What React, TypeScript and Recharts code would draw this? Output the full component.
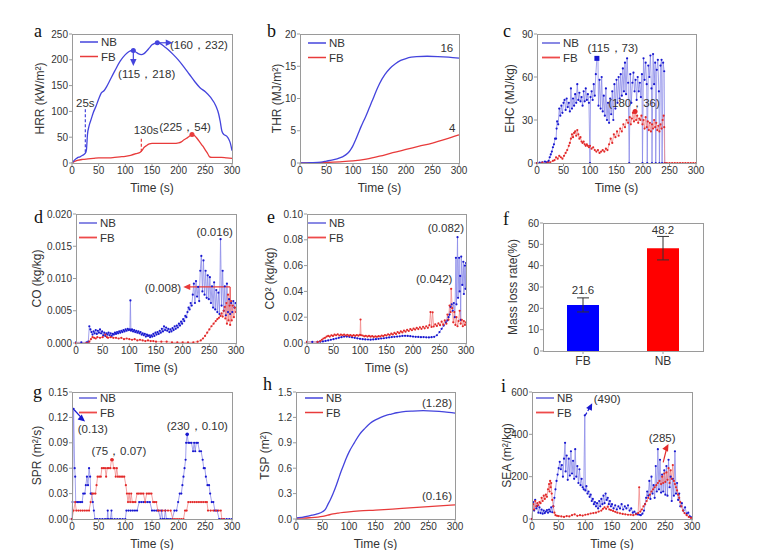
import React from "react"
import {
  LineChart,
  Line,
  XAxis,
  YAxis,
  BarChart,
  Bar,
  Cell,
  ErrorBar,
  ReferenceLine,
  ReferenceDot,
} from "recharts"

const FONT = '"Liberation Sans", Arial, Helvetica, sans-serif'
const SERIF = '"Liberation Serif", "Times New Roman", serif'
const TXT = "#333"
const FRAME = "#9a9a9a"
const BLUE = "#4444dd"
const RED = "#e83b3b"
const BLUE_LN = "#8a8ae8"
const BLUE_DOT = "#1818d0"
const RED_LN = "#f28a8a"
const RED_DOT = "#e22a2a"

type Pt = [number, number]

const timeTicks = [0, 50, 100, 150, 200, 250, 300]

// a: heat release rate
const hrrNB: Pt[] = [
  [0, 0], [5, 6], [10, 10], [15, 12], [20, 15], [25, 19], [27, 25], [29, 55], [32, 72], [36, 85],
  [40, 98], [45, 110], [50, 124], [55, 136], [60, 140], [65, 148], [70, 158], [80, 178], [90, 197],
  [100, 210], [107, 216], [113, 218], [118, 216], [124, 212], [130, 210], [135, 212], [140, 217],
  [145, 223], [150, 229], [155, 232], [160, 233], [165, 232], [170, 228], [180, 220], [190, 210],
  [200, 199], [210, 186], [220, 172], [230, 158], [240, 146], [250, 138], [260, 127], [270, 110],
  [275, 95], [278, 80], [281, 62], [285, 55], [290, 52], [294, 46], [297, 38], [300, 24],
]
const hrrFB: Pt[] = [
  [0, 0], [5, 3], [10, 5], [20, 7], [30, 8], [40, 9], [50, 10], [60, 10], [70, 10], [80, 11],
  [90, 12], [100, 13], [110, 15], [120, 18], [128, 21], [131, 24], [135, 30], [140, 34], [145, 37],
  [150, 38], [160, 38], [170, 38], [180, 38], [190, 38], [200, 39], [205, 41], [210, 45], [215, 48],
  [220, 52], [225, 55], [230, 53], [235, 47], [240, 40], [245, 33], [250, 25], [255, 17], [258, 12],
  [262, 11], [270, 11], [280, 11], [290, 10], [300, 9],
]

// b: total heat release
const thrNB: Pt[] = [
  [0, 0], [20, 0.05], [40, 0.15], [50, 0.3], [60, 0.45], [70, 0.65], [80, 0.95], [90, 1.5],
  [95, 2], [100, 2.7], [105, 3.6], [110, 4.6], [115, 5.6], [120, 6.5], [125, 7.4], [130, 8.4],
  [135, 9.4], [140, 10.4], [145, 11.4], [150, 12.3], [160, 13.7], [170, 14.7], [180, 15.4],
  [190, 15.9], [200, 16.2], [210, 16.4], [220, 16.5], [240, 16.55], [260, 16.5], [280, 16.4], [300, 16.25],
]
const thrFB: Pt[] = [
  [0, 0], [25, 0.02], [50, 0.08], [75, 0.18], [100, 0.32], [125, 0.6], [150, 1.05], [175, 1.6],
  [200, 2.1], [225, 2.6], [250, 3.1], [275, 3.7], [300, 4.35],
]

// c: effective heat of combustion
const ehcNB: Pt[] = [
  [0, 0], [5, 0.3], [10, 0.5], [15, 1], [18, 0.5], [20, 0.5], [22, 1.5], [24, 4], [26, 6], [28, 8],
  [30, 11], [32, 13], [34, 17], [36, 17], [37, 24], [38, 29], [40, 27], [42, 38], [44, 33], [46, 40],
  [48, 35], [50, 42], [52, 44], [54, 37], [56, 45], [58, 39], [60, 42], [62, 36], [64, 52], [66, 38],
  [68, 45], [70, 40], [72, 48], [74, 42], [76, 55], [78, 44], [80, 49], [82, 43], [84, 46], [86, 40],
  [88, 50], [90, 43], [92, 52], [94, 44], [96, 48], [98, 42], [100, 0], [101, 46], [103, 50], [105, 44],
  [107, 55], [109, 47], [111, 62], [113, 73], [115, 73], [116, 40], [118, 58], [120, 38], [122, 60],
  [124, 36], [126, 47], [128, 33], [130, 52], [132, 30], [134, 42], [136, 28], [138, 45], [140, 34],
  [142, 50], [144, 30], [146, 55], [148, 38], [150, 58], [152, 42], [154, 60], [156, 45], [158, 62],
  [160, 47], [162, 66], [164, 50], [166, 70], [168, 48], [170, 73], [172, 56], [174, 0], [176, 62],
  [178, 42], [180, 56], [182, 63], [184, 50], [186, 58], [188, 44], [190, 60], [192, 50], [194, 56],
  [196, 46], [198, 62], [199, 0], [201, 73], [203, 58], [205, 70], [207, 55], [208, 0], [210, 68],
  [212, 60], [214, 75], [216, 52], [217, 0], [219, 76], [221, 55], [223, 70], [224, 0], [226, 65],
  [228, 72], [230, 50], [231, 0], [233, 68], [235, 72], [236, 0], [238, 70], [240, 64], [241, 0],
]
const ehcFB: Pt[] = [
  [0, 0], [10, 0.2], [20, 0.3], [25, 0.5], [30, 1.5], [33, 2], [36, 4], [39, 3], [42, 5], [45, 4],
  [48, 3], [51, 5], [54, 7], [57, 9], [60, 12], [62, 14], [64, 17], [66, 20], [68, 18], [70, 21],
  [72, 22], [74, 19], [76, 23], [78, 20], [80, 17], [82, 18], [84, 15], [86, 14], [88, 15], [90, 13],
  [92, 12], [94, 13], [96, 12], [98, 11], [100, 12], [103, 10], [106, 11], [109, 9], [112, 8],
  [115, 9], [118, 7], [121, 8], [124, 9], [127, 8], [130, 10], [133, 9], [136, 13], [139, 17],
  [142, 14], [145, 20], [148, 18], [151, 22], [154, 19], [157, 24], [160, 22], [163, 27], [166, 25],
  [169, 30], [172, 28], [175, 32], [177, 27], [179, 31], [181, 35], [183, 29], [185, 36], [187, 30],
  [189, 33], [191, 28], [193, 31], [195, 30], [197, 33], [199, 27], [201, 30], [203, 24], [205, 32],
  [207, 25], [209, 29], [211, 23], [213, 28], [215, 22], [217, 27], [219, 24], [221, 30], [223, 25],
  [225, 28], [227, 23], [229, 26], [231, 22], [233, 27], [235, 24], [237, 30], [239, 33], [240, 25],
  [241, 0], [245, 0], [250, 0], [255, 0], [260, 0], [265, 0], [270, 0], [275, 0], [280, 0], [285, 0],
  [290, 0], [295, 0], [300, 0],
]

// d: CO yield
const coNB: Pt[] = [
  [0, 0.0001], [10, 0.0001], [20, 0.0001], [23, 0.0002], [25, 0.0026], [27, 0.0021], [29, 0.0017],
  [31, 0.0013], [33, 0.0018], [35, 0.0015], [37, 0.002], [39, 0.0014], [41, 0.0019], [43, 0.0016],
  [45, 0.0021], [47, 0.0015], [49, 0.0018], [51, 0.0012], [53, 0.0016], [55, 0.0011], [57, 0.0015],
  [59, 0.0013], [61, 0.0016], [63, 0.0012], [65, 0.0015], [67, 0.0011], [69, 0.0014], [71, 0.0013],
  [73, 0.0016], [75, 0.0014], [77, 0.0017], [79, 0.0015], [81, 0.0018], [83, 0.0016], [85, 0.0019],
  [87, 0.0017], [89, 0.002], [91, 0.0018], [93, 0.0021], [95, 0.0019], [97, 0.0022], [99, 0.002],
  [101, 0.0021], [102, 0.0066], [103, 0.0019], [105, 0.0021], [107, 0.0018], [109, 0.002],
  [111, 0.0017], [113, 0.0019], [115, 0.0016], [117, 0.0018], [119, 0.0015], [121, 0.0017],
  [123, 0.0013], [125, 0.0015], [127, 0.0012], [129, 0.0014], [131, 0.001], [133, 0.0013],
  [135, 0.0011], [137, 0.0012], [139, 0.0009], [141, 0.0012], [143, 0.001], [145, 0.0014],
  [147, 0.0011], [149, 0.0016], [151, 0.0013], [153, 0.0017], [155, 0.0014], [157, 0.0019],
  [159, 0.0016], [161, 0.0022], [163, 0.0018], [165, 0.0026], [167, 0.002], [169, 0.0024],
  [171, 0.0019], [173, 0.0022], [175, 0.0017], [177, 0.0021], [179, 0.0018], [181, 0.0023],
  [183, 0.002], [185, 0.0026], [187, 0.0022], [189, 0.0027], [191, 0.0024], [193, 0.003],
  [195, 0.0027], [197, 0.0033], [199, 0.003], [201, 0.0037], [203, 0.0034], [205, 0.0042],
  [207, 0.004], [209, 0.0048], [211, 0.0055], [213, 0.0052], [215, 0.0062], [217, 0.0058],
  [219, 0.0075], [221, 0.0092], [223, 0.0062], [225, 0.0096], [227, 0.0072], [229, 0.0087],
  [231, 0.0065], [233, 0.0112], [235, 0.0135], [237, 0.008], [239, 0.0128], [241, 0.0075],
  [243, 0.0112], [245, 0.007], [247, 0.0105], [249, 0.0068], [251, 0.0102], [253, 0.0062],
  [255, 0.0088], [257, 0.0055], [259, 0.0094], [261, 0.0052], [263, 0.0082], [265, 0.0048],
  [267, 0.0078], [269, 0.0045], [271, 0.0161], [273, 0.0058], [275, 0.0112], [277, 0.005],
  [279, 0.0088], [281, 0.0043], [283, 0.0092], [285, 0.0048], [287, 0.0068], [289, 0.0045],
  [291, 0.0062], [293, 0.0048], [295, 0.0065], [297, 0.0055], [299, 0.0062],
]
const coFB: Pt[] = [
  [0, 0], [20, 0], [25, 0.0002], [28, 0.0006], [31, 0.0009], [34, 0.0008], [37, 0.0007], [40, 0.0009],
  [45, 0.0008], [50, 0.0009], [55, 0.0013], [58, 0.0009], [60, 0.0008], [65, 0.0009], [70, 0.0008],
  [75, 0.0008], [80, 0.0007], [85, 0.0008], [90, 0.0006], [95, 0.0007], [100, 0.0006], [105, 0.0005],
  [110, 0.0006], [115, 0.0004], [120, 0.0005], [125, 0.0004], [130, 0.0003], [135, 0.0004],
  [140, 0.0003], [145, 0.0003], [150, 0.0002], [160, 0.0002], [170, 0.0002], [180, 0.0001],
  [190, 0.0001], [200, 0.0001], [210, 0.0001], [220, 0.0001], [228, 0.0002], [234, 0.0004],
  [238, 0.0007], [242, 0.0011], [246, 0.0016], [250, 0.0021], [254, 0.0026], [258, 0.003],
  [262, 0.0034], [265, 0.0037], [268, 0.0039], [271, 0.0042], [273, 0.0046], [275, 0.0041],
  [277, 0.005], [279, 0.0056], [280, 0.0038], [282, 0.0062], [283, 0.003], [285, 0.0075],
  [286, 0.0035], [288, 0.0058], [289, 0.0028], [291, 0.0065], [292, 0.0035], [294, 0.0058],
  [296, 0.004], [298, 0.0055], [300, 0.0048],
]

// e: CO2 yield
const co2NB: Pt[] = [
  [0, 0.0008], [10, 0.0008], [20, 0.0008], [25, 0.001], [30, 0.0012], [35, 0.0016], [40, 0.002],
  [45, 0.0025], [50, 0.003], [55, 0.0035], [60, 0.004], [65, 0.0045], [70, 0.005], [75, 0.005],
  [80, 0.0048], [85, 0.0044], [90, 0.004], [95, 0.0036], [100, 0.0032], [105, 0.003], [110, 0.0028],
  [115, 0.0027], [120, 0.0026], [125, 0.0028], [130, 0.003], [135, 0.0032], [140, 0.0035],
  [145, 0.0037], [150, 0.004], [155, 0.0043], [160, 0.0046], [165, 0.0048], [170, 0.005],
  [175, 0.0052], [180, 0.0055], [185, 0.0056], [190, 0.0055], [195, 0.0053], [200, 0.005],
  [205, 0.0048], [210, 0.0047], [215, 0.0045], [220, 0.0046], [225, 0.0044], [230, 0.0043],
  [235, 0.0045], [240, 0.0048], [245, 0.006], [250, 0.0085], [254, 0.011], [258, 0.0135],
  [262, 0.016], [265, 0.0175], [267, 0.02], [269, 0.022], [271, 0.028], [273, 0.03], [275, 0.025],
  [277, 0.031], [279, 0.02], [281, 0.066], [282, 0.03], [284, 0.082], [285, 0.035], [287, 0.066],
  [288, 0.04], [289, 0.052], [290, 0.018], [291, 0.067], [293, 0.045], [295, 0.063], [296, 0.038],
  [298, 0.06], [299, 0.042], [300, 0.062],
]
const co2FB: Pt[] = [
  [0, 0.0008], [20, 0.0008], [25, 0.0015], [28, 0.0025], [31, 0.0035], [34, 0.004], [37, 0.005],
  [40, 0.0055], [43, 0.005], [46, 0.006], [49, 0.0055], [52, 0.0065], [55, 0.006], [58, 0.0068],
  [61, 0.0058], [64, 0.0065], [67, 0.006], [70, 0.0066], [73, 0.0058], [76, 0.0064], [79, 0.0057],
  [82, 0.0062], [85, 0.0055], [88, 0.0061], [91, 0.0056], [94, 0.0062], [97, 0.0057], [100, 0.0063],
  [101, 0.0182], [102, 0.006], [105, 0.0058], [108, 0.0052], [111, 0.0056], [114, 0.005],
  [117, 0.0055], [120, 0.0049], [123, 0.0053], [126, 0.0047], [129, 0.0052], [132, 0.0048],
  [135, 0.0054], [138, 0.005], [141, 0.0058], [144, 0.0053], [147, 0.0062], [150, 0.0058],
  [153, 0.0068], [156, 0.0062], [159, 0.0072], [162, 0.0066], [165, 0.0078], [168, 0.007],
  [171, 0.0085], [174, 0.0076], [177, 0.009], [180, 0.0082], [183, 0.0096], [186, 0.0088],
  [189, 0.0102], [192, 0.0093], [195, 0.0108], [198, 0.0099], [201, 0.0112], [204, 0.0104],
  [207, 0.0118], [210, 0.0108], [213, 0.0122], [216, 0.011], [219, 0.0126], [222, 0.0114],
  [225, 0.013], [228, 0.0118], [231, 0.0138], [233, 0.024], [235, 0.0125], [237, 0.0238],
  [239, 0.0128], [242, 0.0145], [245, 0.0132], [248, 0.0152], [251, 0.0138], [254, 0.0165],
  [257, 0.0142], [260, 0.0175], [263, 0.015], [265, 0.022], [267, 0.018], [269, 0.029], [271, 0.024],
  [272, 0.042], [274, 0.027], [276, 0.016], [278, 0.024], [280, 0.014], [282, 0.02], [284, 0.013],
  [286, 0.017], [288, 0.025], [290, 0.015], [292, 0.018], [294, 0.013], [296, 0.017], [298, 0.014],
  [300, 0.016],
]

// f: mass loss rate
const massGroups = ["FB", "NB"]
const massValues = [21.6, 48.2]
const massErrors = [3.3, 5.5]
const massColors = ["#0000ff", "#ff0000"]

// g: smoke production rate
const sprNB: Pt[] = [
  [0, 0], [1, 0.02], [3, 0.13], [5, 0.06], [6, 0.05], [7, 0.02], [10, 0.02], [13, 0.02], [16, 0.02],
  [19, 0.02], [21, 0.03], [24, 0.03], [26, 0.04], [28, 0.05], [30, 0.04], [32, 0.06], [34, 0.05],
  [35, 0.03], [37, 0.03], [39, 0.02], [41, 0.01], [43, 0], [47, 0], [52, 0], [57, 0], [62, 0], [66, 0],
  [67, 0.01], [68, 0], [72, 0], [74, 0.01], [75, 0], [80, 0], [85, 0], [90, 0], [95, 0], [100, 0],
  [102, 0.01], [106, 0.01], [110, 0.01], [114, 0.01], [118, 0.01], [122, 0.01], [126, 0.02],
  [130, 0.02], [134, 0.02], [138, 0.02], [142, 0.02], [146, 0.02], [150, 0.01], [154, 0.01],
  [158, 0.01], [162, 0.01], [166, 0], [168, 0.01], [170, 0], [173, 0], [175, 0.01], [177, 0], [180, 0],
  [184, 0], [188, 0], [192, 0.01], [196, 0.01], [199, 0.02], [202, 0.03], [205, 0.03], [207, 0.04],
  [209, 0.05], [211, 0.06], [213, 0.07], [214, 0.09], [216, 0.1], [218, 0.09], [221, 0.09],
  [224, 0.09], [227, 0.08], [229, 0.09], [231, 0.08], [233, 0.09], [236, 0.09], [239, 0.08],
  [242, 0.08], [245, 0.07], [247, 0.06], [249, 0.06], [251, 0.05], [254, 0.04], [257, 0.04],
  [259, 0.03], [262, 0.02], [265, 0.02], [268, 0.01], [272, 0.01], [276, 0], [280, 0], [285, 0],
  [290, 0], [295, 0], [300, 0],
]
const sprFB: Pt[] = [
  [0, 0], [3, 0.01], [6, 0.02], [8, 0.01], [12, 0.01], [16, 0.01], [20, 0.01], [24, 0.01], [28, 0.01],
  [32, 0.01], [35, 0.02], [38, 0.03], [41, 0.03], [44, 0.03], [46, 0.04], [48, 0.05], [51, 0.05],
  [54, 0.05], [56, 0.06], [59, 0.06], [62, 0.06], [64, 0.05], [66, 0.06], [69, 0.06], [72, 0.06],
  [74, 0.07], [76, 0.07], [78, 0.06], [80, 0.06], [82, 0.05], [84, 0.06], [86, 0.05], [89, 0.05],
  [92, 0.05], [95, 0.05], [98, 0.05], [101, 0.04], [103, 0.03], [105, 0.02], [107, 0.03], [109, 0.02],
  [111, 0.03], [113, 0.02], [116, 0.02], [119, 0.02], [122, 0.03], [125, 0.03], [128, 0.03],
  [131, 0.03], [134, 0.03], [137, 0.02], [140, 0.03], [143, 0.03], [146, 0.03], [149, 0.03],
  [152, 0.02], [155, 0.02], [158, 0.02], [161, 0.01], [165, 0.01], [170, 0.01], [175, 0.01],
  [180, 0.01], [185, 0.01], [189, 0], [193, 0], [197, 0], [201, 0], [205, 0], [209, 0], [212, 0.01],
  [215, 0.01], [218, 0.02], [222, 0.02], [226, 0.02], [230, 0.02], [234, 0.02], [238, 0.02],
  [242, 0.02], [246, 0.02], [250, 0.02], [253, 0.02], [255, 0.01], [260, 0.01], [265, 0.01],
  [270, 0.01], [275, 0.01], [279, 0.01], [281, 0], [285, 0],
]

// h: total smoke production
const tspNB: Pt[] = [
  [0, 0.01], [10, 0.02], [20, 0.03], [30, 0.045], [40, 0.06], [50, 0.085], [55, 0.11], [60, 0.17],
  [65, 0.23], [70, 0.3], [75, 0.38], [80, 0.47], [85, 0.56], [90, 0.64], [95, 0.72], [100, 0.79],
  [110, 0.9], [120, 1.0], [130, 1.07], [140, 1.13], [150, 1.17], [160, 1.2], [170, 1.225],
  [180, 1.24], [190, 1.255], [200, 1.265], [220, 1.275], [240, 1.28], [260, 1.275], [280, 1.265],
  [300, 1.25],
]
const tspFB: Pt[] = [
  [0, 0.01], [25, 0.015], [50, 0.03], [60, 0.045], [70, 0.06], [80, 0.07], [90, 0.078], [100, 0.085],
  [120, 0.095], [150, 0.105], [200, 0.125], [250, 0.145], [300, 0.168],
]

// i: specific extinction area
const seaNB: Pt[] = [
  [0, 0], [2, 80], [4, 40], [6, 90], [8, 50], [10, 62], [12, 30], [14, 55], [16, 28], [18, 45],
  [20, 25], [22, 40], [24, 28], [26, 35], [28, 42], [30, 30], [32, 45], [34, 35], [36, 55], [38, 32],
  [40, 60], [42, 100], [44, 140], [46, 180], [48, 210], [50, 240], [52, 270], [54, 235], [56, 255],
  [58, 200], [60, 285], [62, 360], [63, 225], [65, 300], [67, 185], [69, 285], [71, 205], [73, 320],
  [75, 215], [77, 275], [79, 190], [81, 330], [83, 200], [85, 250], [87, 170], [89, 235], [91, 160],
  [93, 190], [95, 150], [97, 140], [99, 490], [100, 135], [102, 155], [104, 120], [106, 130],
  [108, 105], [110, 115], [112, 85], [114, 95], [116, 70], [118, 80], [120, 60], [122, 75], [124, 50],
  [126, 85], [128, 60], [130, 95], [132, 70], [134, 110], [136, 75], [138, 120], [140, 90], [142, 100],
  [144, 70], [146, 85], [148, 60], [150, 70], [153, 50], [156, 65], [159, 45], [162, 60], [165, 50],
  [168, 70], [171, 45], [174, 60], [177, 50], [180, 65], [183, 40], [186, 50], [189, 30], [192, 35],
  [195, 25], [198, 22], [201, 20], [204, 18], [207, 25], [210, 40], [212, 70], [214, 100], [216, 130],
  [218, 110], [220, 180], [222, 95], [224, 200], [226, 120], [228, 160], [230, 100], [232, 250],
  [234, 130], [236, 330], [238, 140], [240, 280], [242, 125], [244, 210], [246, 130], [248, 230],
  [250, 115], [252, 250], [254, 110], [256, 280], [258, 150], [260, 200], [262, 85], [264, 190],
  [266, 110], [268, 320], [270, 120], [272, 170], [274, 90], [276, 120], [278, 60], [281, 75],
  [284, 40], [287, 55], [290, 25], [293, 30], [296, 12], [299, 8],
]
const seaFB: Pt[] = [
  [0, 0], [2, 70], [4, 45], [6, 85], [8, 60], [10, 75], [12, 65], [14, 80], [16, 75], [18, 100],
  [20, 85], [22, 110], [24, 95], [26, 115], [28, 105], [30, 140], [32, 165], [33, 130], [34, 180],
  [35, 150], [36, 170], [37, 120], [38, 90], [40, 60], [42, 30], [44, 18], [47, 15], [50, 14],
  [55, 12], [60, 10], [65, 14], [70, 12], [75, 18], [80, 22], [85, 15], [90, 18], [95, 16], [100, 20],
  [105, 22], [110, 26], [115, 28], [120, 30], [125, 35], [130, 40], [133, 48], [136, 55], [139, 48],
  [142, 58], [145, 45], [148, 42], [152, 38], [156, 34], [160, 30], [165, 27], [170, 24], [175, 22],
  [180, 20], [185, 20], [190, 18], [195, 22], [199, 28], [201, 150], [203, 35], [206, 45], [209, 60],
  [212, 70], [215, 85], [218, 100], [221, 115], [224, 130], [227, 140], [230, 150], [233, 160],
  [236, 170], [239, 180], [242, 165], [244, 200], [246, 170], [248, 215], [250, 175], [252, 220],
  [254, 185], [256, 240], [258, 170], [260, 230], [262, 190], [264, 255], [266, 180], [268, 165],
  [270, 150], [272, 135], [274, 115], [276, 100], [278, 80], [280, 60], [283, 40], [286, 28],
  [290, 18], [294, 10], [298, 5],
]

const toData = (pts: Pt[]) => pts.map(([t, v]) => ({ t, v }))

// layout constants for every panel
const YW = 60
const TOP = 10
const RIGHT = 12
const XH = 32

const tickStyle = { fontSize: 10, fill: TXT, fontFamily: FONT }

// lines
const smooth = (pts: Pt[], color: string) => (
  <Line
    data={toData(pts)}
    dataKey="v"
    type="monotone"
    stroke={color}
    strokeWidth={1.3}
    dot={false}
    isAnimationActive={false}
  />
)
const noisy = (pts: Pt[], line: string, dot: string) => (
  <Line
    data={toData(pts)}
    dataKey="v"
    type="linear"
    stroke={line}
    strokeWidth={0.8}
    dot={{ r: 1.1, fill: dot, stroke: "none" }}
    isAnimationActive={false}
  />
)

// annotations
const note = (x: number | string, y: number, text: string, color = TXT, size = 11.5) => (
  <ReferenceDot
    x={x}
    y={y}
    r={1}
    shape={(p: any) => (
      <text
        x={p.cx}
        y={p.cy}
        textAnchor="middle"
        dominantBaseline="central"
        fontSize={size}
        fill={color}
        fontFamily={FONT}
      >
        {text}
      </text>
    )}
  />
)
const head = (x: number, y: number, angle: number, color: string) => (
  <ReferenceDot
    x={x}
    y={y}
    r={1}
    shape={(p: any) => (
      <polygon
        points="1,0 -6,-3.2 -6,3.2"
        transform={`translate(${p.cx},${p.cy}) rotate(${angle})`}
        fill={color}
      />
    )}
  />
)
const square = (x: number, y: number, color: string) => (
  <ReferenceDot
    x={x}
    y={y}
    r={1}
    shape={(p: any) => <rect x={p.cx - 2.5} y={p.cy - 2.5} width={5} height={5} fill={color} />}
  />
)
const seg = (x1: number, y1: number, x2: number, y2: number, color: string, dash?: string) => (
  <ReferenceLine
    segment={[{ x: x1, y: y1 }, { x: x2, y: y2 }]}
    stroke={color}
    strokeWidth={1.2}
    strokeDasharray={dash}
  />
)
const mark = (x: number, y: number, color: string, r = 2.5) => (
  <ReferenceDot x={x} y={y} r={r} fill={color} stroke="none" />
)

interface KeyItem {
  label: string
  color: string
  width: number
}

function Key({ x, y, items }: { x: number; y: number; items: KeyItem[] }) {
  return (
    <svg style={{ position: "absolute", left: x, top: y - 7 }} width={50} height={32}>
      {items.map((it, i) => (
        <g key={it.label}>
          <line x1={0} x2={18} y1={7 + i * 14.5} y2={7 + i * 14.5} stroke={it.color} strokeWidth={it.width} />
          <text x={21} y={7 + i * 14.5} dominantBaseline="central" fontSize={11.5} fill={TXT} fontFamily={FONT}>
            {it.label}
          </text>
        </g>
      ))}
    </svg>
  )
}

function Letter({ x, y, ch }: { x: number; y: number; ch: string }) {
  return (
    <span
      style={{
        position: "absolute",
        left: x,
        top: y - 15,
        fontFamily: SERIF,
        fontSize: 18,
        lineHeight: "18px",
        color: "#111",
      }}
    >
      {ch}
    </span>
  )
}

function Frame({ box }: { box: number[] }) {
  const [left, top, w, h] = box
  return (
    <div
      style={{
        position: "absolute",
        left,
        top,
        width: w + 1,
        height: h + 1,
        border: `1px solid ${FRAME}`,
        boxSizing: "border-box",
        pointerEvents: "none",
      }}
    />
  )
}

interface PanelProps {
  box: number[]
  yLabel: string
  yLabelX: number
  yDomain: [number, number]
  yTicks: number[]
  digits?: number
  children: React.ReactNode
}

function Panel({ box, yLabel, yLabelX, yDomain, yTicks, digits = 0, children }: PanelProps) {
  const [left, top, w, h] = box
  const cl = left - YW
  return (
    <div style={{ position: "absolute", left: cl, top: top - TOP }}>
      <LineChart
        width={YW + w + RIGHT}
        height={TOP + h + XH}
        margin={{ top: TOP, right: RIGHT, left: 0, bottom: 0 }}
      >
        <XAxis
          dataKey="t"
          type="number"
          domain={[0, 300]}
          ticks={timeTicks}
          height={XH}
          axisLine={false}
          tickLine={{ stroke: FRAME }}
          tickSize={3}
          tickMargin={1}
          tick={tickStyle}
          interval={0}
          label={{
            value: "Time (s)",
            position: "insideBottom",
            offset: 3,
            fontSize: 12,
            fill: TXT,
            fontFamily: FONT,
          }}
        />
        <YAxis
          type="number"
          domain={yDomain}
          ticks={yTicks}
          width={YW}
          axisLine={false}
          tickLine={{ stroke: FRAME }}
          tickSize={3}
          tickMargin={1}
          tick={tickStyle}
          interval={0}
          tickFormatter={(v: number) => v.toFixed(digits)}
          label={{
            value: yLabel,
            angle: -90,
            position: "insideLeft",
            offset: yLabelX - cl,
            fontSize: 12,
            fill: TXT,
            fontFamily: FONT,
            style: { textAnchor: "middle" },
          }}
        />
        {children}
      </LineChart>
    </div>
  )
}

const boxA = [72, 34, 160, 129]
const boxB = [300, 34, 159, 129]
const boxC = [537, 34, 159, 129]
const boxD = [76, 214, 160, 129]
const boxE = [307, 214, 159, 129]
const boxF = [543, 223, 160, 128]
const boxG = [72, 392, 160, 127]
const boxH = [296, 392, 159, 127]
const boxI = [532, 392, 160, 127]

const smoothKey = [
  { label: "NB", color: BLUE, width: 1.5 },
  { label: "FB", color: RED, width: 1.5 },
]
const noisyKey = [
  { label: "NB", color: "#4a4ad6", width: 1.3 },
  { label: "FB", color: "#ee4a4a", width: 1.8 },
]

function MassPanel() {
  const [left, top, w, h] = boxF
  const cl = left - YW
  const data = massGroups.map((name, i) => ({ name, v: massValues[i], err: massErrors[i] }))
  return (
    <div style={{ position: "absolute", left: cl, top: top - TOP }}>
      <BarChart
        width={YW + w + RIGHT}
        height={TOP + h + XH}
        margin={{ top: TOP, right: RIGHT, left: 0, bottom: 0 }}
        data={data}
      >
        <XAxis
          dataKey="name"
          type="category"
          height={XH}
          axisLine={false}
          tickLine={{ stroke: FRAME }}
          tickSize={3}
          tickMargin={2}
          tick={{ fontSize: 12, fill: TXT, fontFamily: FONT }}
        />
        <YAxis
          type="number"
          domain={[0, 60]}
          ticks={[0, 10, 20, 30, 40, 50, 60]}
          width={YW}
          axisLine={false}
          tickLine={{ stroke: FRAME }}
          tickSize={3}
          tickMargin={1}
          tick={tickStyle}
          interval={0}
          label={{
            value: "Mass loss rate(%)",
            angle: -90,
            position: "insideLeft",
            offset: 513 - cl,
            fontSize: 12,
            fill: TXT,
            fontFamily: FONT,
            style: { textAnchor: "middle" },
          }}
        />
        <Bar dataKey="v" barSize={32} isAnimationActive={false}>
          {data.map((d, i) => (
            <Cell key={d.name} fill={massColors[i]} />
          ))}
          <ErrorBar dataKey="err" width={6} stroke="#333" strokeWidth={1} />
        </Bar>
        {note("FB", 28.6, "21.6")}
        {note("NB", 56.7, "48.2")}
      </BarChart>
    </div>
  )
}

export default function App() {
  return (
    <div
      style={{
        position: "absolute",
        left: 0,
        top: 0,
        width: 759,
        height: 550,
        background: "#fff",
        overflow: "hidden",
        fontFamily: FONT,
      }}
    >
      {/* a: HRR */}
      <Panel box={boxA} yLabel="HRR (kW/m²)" yLabelX={40} yDomain={[0, 250]} yTicks={[0, 50, 100, 150, 200, 250]}>
        {smooth(hrrFB, RED)}
        {smooth(hrrNB, BLUE)}
        {seg(25, 21, 25, 106, BLUE, "3 2")}
        {seg(130, 22, 130, 48, RED, "3 2")}
        {note(25, 116, "25s")}
        {note(139, 64, "130s")}
        {note(212, 70, "(225，54)")}
        {note(140, 172, "(115，218)")}
        {note(238, 229, "(160，232)")}
        {seg(115, 216, 115, 195, BLUE)}
        {head(115, 190, 90, BLUE)}
        {seg(160, 233, 182, 233, BLUE)}
        {head(187, 233, 0, BLUE)}
        {mark(115, 218, BLUE)}
        {mark(160, 233, BLUE)}
        {mark(225, 55, RED)}
      </Panel>

      {/* b: THR */}
      <Panel box={boxB} yLabel="THR (MJ/m²)" yLabelX={277} yDomain={[0, 20]} yTicks={[0, 5, 10, 15, 20]}>
        {smooth(thrFB, RED)}
        {smooth(thrNB, BLUE)}
        {note(277, 17.8, "16")}
        {note(287, 5.4, "4")}
      </Panel>

      {/* c: EHC */}
      <Panel box={boxC} yLabel="EHC (MJ/kg)" yLabelX={510} yDomain={[0, 90]} yTicks={[0, 30, 60, 90]}>
        {noisy(ehcNB, BLUE_LN, BLUE_DOT)}
        {noisy(ehcFB, RED_LN, RED_DOT)}
        {square(113, 73, BLUE_DOT)}
        {mark(185, 36, RED_DOT)}
        {note(143, 80, "(115，73)")}
        {note(183, 42, "(180，36)")}
      </Panel>

      {/* d: CO */}
      <Panel
        box={boxD}
        yLabel="CO (kg/kg)"
        yLabelX={37}
        yDomain={[0, 0.02]}
        yTicks={[0, 0.005, 0.01, 0.015, 0.02]}
        digits={3}
      >
        {noisy(coNB, BLUE_LN, BLUE_DOT)}
        {noisy(coFB, RED_LN, RED_DOT)}
        {seg(289, 0.006, 289, 0.0087, RED)}
        {seg(289, 0.0087, 208, 0.0087, RED)}
        {head(203, 0.0087, 180, RED)}
        {note(260, 0.0172, "(0.016)")}
        {note(163, 0.0086, "(0.008)")}
      </Panel>

      {/* e: CO2 */}
      <Panel
        box={boxE}
        yLabel="CO² (kg/kg)"
        yLabelX={270}
        yDomain={[0, 0.1]}
        yTicks={[0, 0.02, 0.04, 0.06, 0.08, 0.1]}
        digits={2}
      >
        {noisy(co2NB, BLUE_LN, BLUE_DOT)}
        {noisy(co2FB, RED_LN, RED_DOT)}
        {note(262, 0.089, "(0.082)")}
        {note(240, 0.0496, "(0.042)")}
      </Panel>

      {/* f: mass loss rate */}
      <MassPanel />

      {/* g: SPR */}
      <Panel
        box={boxG}
        yLabel="SPR (m²/s)"
        yLabelX={37}
        yDomain={[0, 0.15]}
        yTicks={[0, 0.03, 0.06, 0.09, 0.12, 0.15]}
        digits={2}
      >
        {noisy(sprNB, BLUE_LN, BLUE_DOT)}
        {noisy(sprFB, RED_LN, RED_DOT)}
        {seg(4, 0.129, 20, 0.118, BLUE_DOT)}
        {head(23, 0.116, 40, BLUE_DOT)}
        {mark(75, 0.07, RED_DOT, 1.8)}
        {mark(216, 0.1, BLUE_DOT, 1.8)}
        {note(39, 0.106, "(0.13)")}
        {note(88, 0.08, "(75，0.07)")}
        {note(235, 0.11, "(230，0.10)")}
      </Panel>

      {/* h: TSP */}
      <Panel
        box={boxH}
        yLabel="TSP (m²)"
        yLabelX={265}
        yDomain={[0, 1.5]}
        yTicks={[0, 0.3, 0.6, 0.9, 1.2, 1.5]}
        digits={1}
      >
        {smooth(tspFB, RED)}
        {smooth(tspNB, BLUE)}
        {note(266, 1.37, "(1.28)")}
        {note(266, 0.27, "(0.16)")}
      </Panel>

      {/* i: SEA */}
      <Panel box={boxI} yLabel="SEA (m²/kg)" yLabelX={507} yDomain={[0, 600]} yTicks={[0, 200, 400, 600]}>
        {noisy(seaNB, BLUE_LN, BLUE_DOT)}
        {noisy(seaFB, RED_LN, RED_DOT)}
        {seg(100, 490, 110, 535, BLUE_DOT, "3 2")}
        {head(112, 543, -63, BLUE_DOT)}
        {seg(246, 268, 253, 340, RED_DOT)}
        {head(255, 350, -62, RED_DOT)}
        {note(141, 567, "(490)")}
        {note(244, 383, "(285)")}
      </Panel>

      {[boxA, boxB, boxC, boxD, boxE, boxF, boxG, boxH, boxI].map((b, i) => (
        <Frame key={i} box={b} />
      ))}

      <Key x={boxA[0] + 8} y={boxA[1] + 8} items={smoothKey} />
      <Key x={boxB[0] + 8} y={boxB[1] + 9} items={smoothKey} />
      <Key x={boxC[0] + 5} y={boxC[1] + 9} items={noisyKey} />
      <Key x={boxD[0] + 3} y={boxD[1] + 9} items={noisyKey} />
      <Key x={boxE[0] + 1} y={boxE[1] + 9} items={noisyKey} />
      <Key x={boxG[0] + 7} y={boxG[1] + 6} items={noisyKey} />
      <Key x={boxH[0] + 9} y={boxH[1] + 6} items={smoothKey} />
      <Key x={boxI[0] + 4} y={boxI[1] + 6} items={noisyKey} />

      <Letter x={34} y={37} ch="a" />
      <Letter x={267} y={37} ch="b" />
      <Letter x={503} y={37} ch="c" />
      <Letter x={34} y={223} ch="d" />
      <Letter x={267} y={223} ch="e" />
      <Letter x={503} y={225} ch="f" />
      <Letter x={33} y={398} ch="g" />
      <Letter x={263} y={390} ch="h" />
      <Letter x={501} y={392} ch="i" />
    </div>
  )
}
